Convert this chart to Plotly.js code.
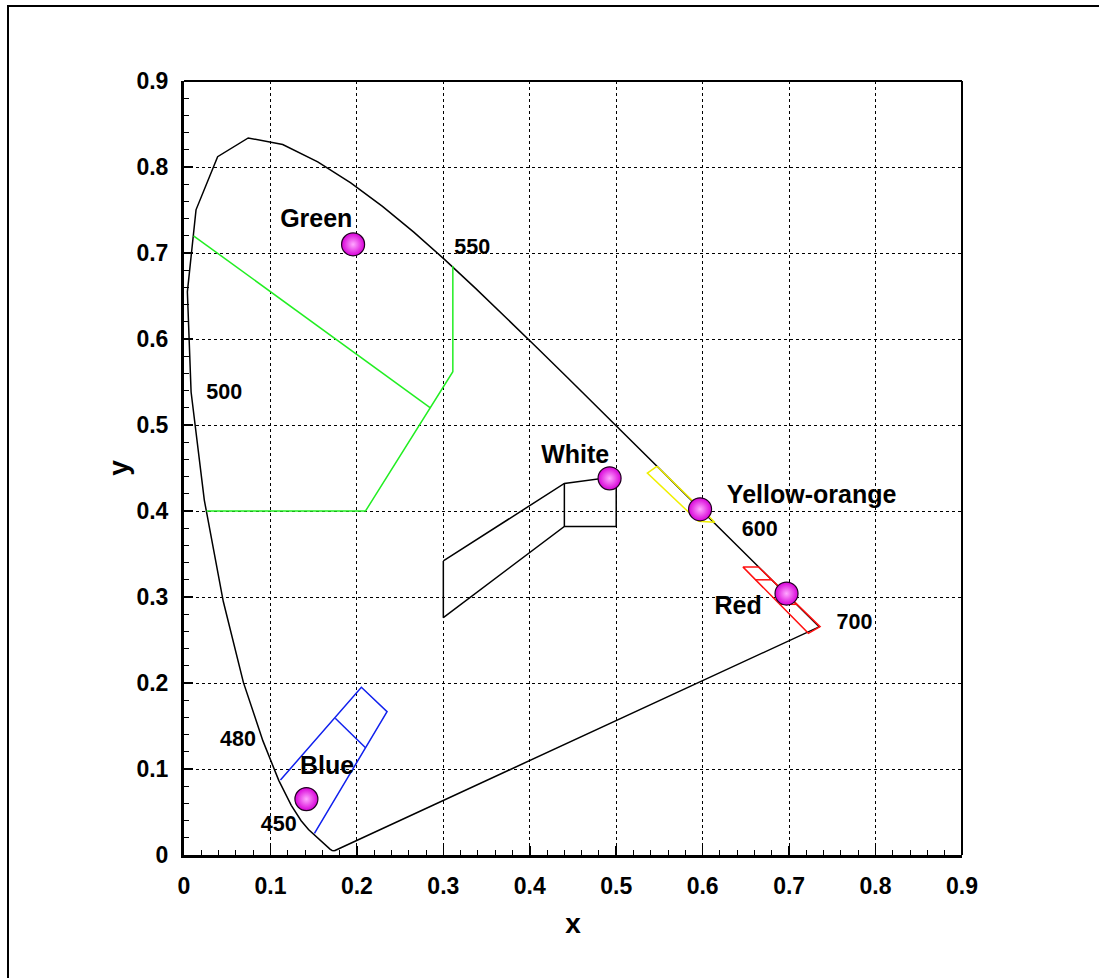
<!DOCTYPE html>
<html>
<head>
<meta charset="utf-8">
<script src="https://cdn.plot.ly/plotly-3.0.1.min.js"></script>
<style>
  html, body { margin: 0; padding: 0; background: #fff; }
  #wrap { position: relative; width: 1105px; height: 978px; }
  #chart { position: absolute; left: 0; top: 0; width: 1105px; height: 978px; }
  #frame { position: absolute; left: 7px; top: 5px; width: 1092px; height: 973px;
           border-left: 2px solid #000; border-top: 2px solid #000; pointer-events: none; box-sizing: border-box; }
</style>
</head>
<body>
<div id="wrap">
  <div id="chart"></div>
  <div id="frame"></div>
</div>
<script>
// CIE 1931 spectral locus (wavelength nm) as drawn
const locusWl = [380,400,410,420,430,440,445,450,455,460,465,470,475,480,485,490,495,500,505,510,515,520,525,530,535,540,545,550,555,560,565,570,575,580,585,590,595,600,605,610,615,620,625,630,640,650,660,680,700,380];
const locusX = [0.1741,0.1733,0.1726,0.1714,0.1689,0.1644,0.1611,0.1566,0.1510,0.1440,0.1355,0.1241,0.1096,0.0913,0.0687,0.0454,0.0235,0.0082,0.0039,0.0139,0.0389,0.0743,0.1142,0.1547,0.1929,0.2296,0.2658,0.3016,0.3373,0.3731,0.4087,0.4441,0.4788,0.5125,0.5448,0.5752,0.6029,0.6270,0.6482,0.6658,0.6801,0.6915,0.7006,0.7079,0.7190,0.7260,0.7300,0.7334,0.7347,0.1741];
const locusY = [0.0050,0.0048,0.0048,0.0051,0.0069,0.0109,0.0138,0.0177,0.0227,0.0297,0.0399,0.0578,0.0868,0.1327,0.2007,0.2950,0.4127,0.5384,0.6548,0.7502,0.8120,0.8338,0.8262,0.8059,0.7816,0.7543,0.7243,0.6923,0.6589,0.6245,0.5896,0.5547,0.5202,0.4866,0.4544,0.4242,0.3965,0.3725,0.3514,0.3340,0.3197,0.3083,0.2993,0.2920,0.2809,0.2740,0.2700,0.2666,0.2653,0.0050];

// Signal colour regions (null separates sub-lines)
const greenX = [0.026,0.210,0.311,0.311,null,0.011,0.285];
const greenY = [0.400,0.400,0.562,0.685,null,0.720,0.520];

const whiteX = [0.300,0.440,0.500,0.500,0.440,0.300,0.300,null,0.440,0.440];
const whiteY = [0.342,0.432,0.440,0.382,0.382,0.276,0.342,null,0.432,0.382];

const yellowX = [0.547,0.536,0.595,0.614,0.547];
const yellowY = [0.452,0.444,0.388,0.387,0.452];

const redX = [0.6465,0.6645,0.7358,0.7223,0.6465,null,0.661,0.680,null,0.689,0.709];
const redY = [0.335,0.335,0.2655,0.2578,0.335,null,0.320,0.320,null,0.2915,0.2915];

const blueX = [0.1116,0.2052,0.2349,0.1509,null,0.175,0.210];
const blueY = [0.0872,0.195,0.1666,0.0252,null,0.159,0.1247];

// Measured colour points
const pointNames = ["Green","White","Yellow-orange","Red","Blue"];
const pointX = [0.1956,0.4923,0.597,0.697,0.1416];
const pointY = [0.710,0.438,0.402,0.304,0.065];

// Text labels
const nameLabels = ["Green","White","Yellow-orange","Red","Blue"];
const nameLabelX = [0.153,0.4526,0.726,0.641,0.1655];
const nameLabelY = [0.738,0.4634,0.416,0.288,0.1015];

const wlLabels = ["550","500","600","700","480","450"];
const wlLabelX = [0.3335,0.0465,0.666,0.7757,0.0624,0.1096];
const wlLabelY = [0.705,0.536,0.377,0.2686,0.1331,0.0343];

const tickVals = [0,0.1,0.2,0.3,0.4,0.5,0.6,0.7,0.8,0.9];
const tickText = ["0","0.1","0.2","0.3","0.4","0.5","0.6","0.7","0.8","0.9"];

const FONT = "Liberation Sans, Arial, Helvetica, sans-serif";

function lineTrace(x, y, color) {
  return { x: x, y: y, type: "scatter", mode: "lines", connectgaps: false,
           line: { color: color, width: 1.5 }, hoverinfo: "skip", showlegend: false };
}

const traces = [
  lineTrace(locusX, locusY, "#000000"),
  lineTrace(greenX, greenY, "#22ee22"),
  lineTrace(whiteX, whiteY, "#000000"),
  lineTrace(yellowX, yellowY, "#f0f000"),
  lineTrace(redX, redY, "#ff1010"),
  lineTrace(blueX, blueY, "#1020ee"),
  { x: pointX, y: pointY, text: pointNames, type: "scatter", mode: "markers", showlegend: false,
    marker: { size: 23, color: "#d800d8", line: { color: "#200020", width: 1.2 },
              gradient: { type: "radial", color: "#ffa8ff" } } },
  { x: nameLabelX, y: nameLabelY, text: nameLabels, type: "scatter", mode: "text", showlegend: false,
    textposition: "middle center", hoverinfo: "skip",
    textfont: { family: FONT, size: 25, color: "#000", weight: "bold" } },
  { x: wlLabelX, y: wlLabelY, text: wlLabels, type: "scatter", mode: "text", showlegend: false,
    textposition: "middle center", hoverinfo: "skip",
    textfont: { family: FONT, size: 21.5, color: "#000", weight: "bold" } }
];

const axisCommon = {
  range: [0, 0.9], tickmode: "array", tickvals: tickVals, ticktext: tickText,
  ticks: "inside", ticklen: 9, tickwidth: 1.5, tickcolor: "#000",
  minor: { ticks: "inside", dtick: 0.02, ticklen: 5, tickwidth: 1, tickcolor: "#000", showgrid: false },
  showgrid: true, gridcolor: "#000", griddash: "dot", gridwidth: 1,
  zeroline: false, showline: true, linecolor: "#000", linewidth: 3,
  tickfont: { family: FONT, size: 23, color: "#000", weight: "bold" },
  fixedrange: true
};

const layout = {
  width: 1105, height: 978,
  margin: { l: 184, r: 143, t: 81, b: 123, pad: 0 },
  paper_bgcolor: "#fff", plot_bgcolor: "#fff",
  xaxis: Object.assign({}, axisCommon, {
    ticklabelstandoff: 8,
    title: { text: "x", font: { family: FONT, size: 28, color: "#000", weight: "bold" }, standoff: 16 }
  }),
  yaxis: Object.assign({}, axisCommon, {
    ticklabelstandoff: 8,
    title: { text: "y", font: { family: FONT, size: 28, color: "#000", weight: "bold" }, standoff: 0 }
  }),
  shapes: [
    { type: "line", xref: "paper", yref: "paper", x0: 0, x1: 1, y0: 1, y1: 1, line: { color: "#000", width: 2 } },
    { type: "line", xref: "paper", yref: "paper", x0: 1, x1: 1, y0: 0, y1: 1, line: { color: "#000", width: 2 } }
  ],
  showlegend: false
};

Plotly.newPlot("chart", traces, layout, { displayModeBar: false, staticPlot: true });
</script>
</body>
</html>
